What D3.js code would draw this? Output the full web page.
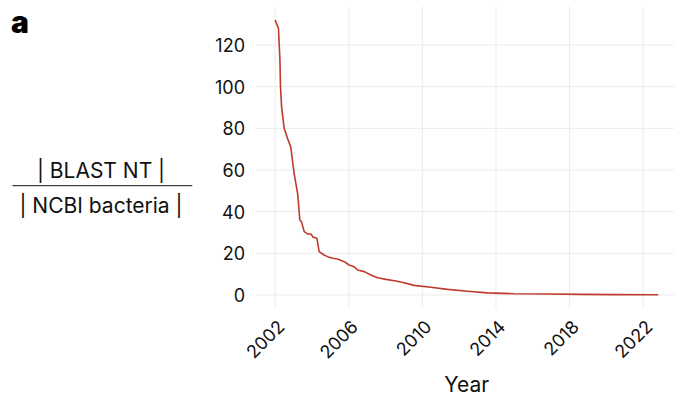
<!DOCTYPE html>
<html>
<head>
<meta charset="utf-8">
<script src="https://cdn.jsdelivr.net/npm/d3@7"></script>
<style>
  html, body { margin: 0; padding: 0; background: #fff; }
  svg { display: block; font-family: Inter, "Noto Sans", sans-serif; }
</style>
</head>
<body>
<svg id="chart" width="674" height="414"></svg>
<script>
// ---- data ----
const years = [2002.00, 2002.18, 2002.26, 2002.29, 2002.35, 2002.49, 2002.67, 2002.85, 2003.03, 2003.22,
  2003.27, 2003.34, 2003.43, 2003.58, 2003.76, 2003.94, 2004.07, 2004.27, 2004.39, 2004.66,
  2004.85, 2005.12, 2005.39, 2005.75, 2006.02, 2006.29, 2006.48, 2006.84, 2007.20, 2007.57,
  2008.02, 2008.56, 2009.01, 2009.55, 2010.46, 2011.37, 2012.46, 2013.54, 2014.99, 2016.80,
  2018.61, 2020.42, 2022.82];
const ratio = [132, 128, 112.8, 100, 90.4, 80, 75.2, 71, 58.4, 48.8,
  44, 36, 35.2, 30.4, 29.3, 29.3, 27.7, 27.2, 20.8, 19.2,
  18.4, 17.6, 17.3, 16, 14.4, 13.6, 12, 11.2, 9.6, 8.3,
  7.5, 6.7, 5.9, 4.6, 3.7, 2.7, 1.8, 1.0, 0.6, 0.5,
  0.3, 0.15, 0.1];
const xTicks = [2002, 2006, 2010, 2014, 2018, 2022];
const yTicks = [0, 20, 40, 60, 80, 100, 120];
const titleNumerator = "BLAST NT";
const titleDenominator = "NCBI bacteria";
const xTitle = "Year";
const panelLabel = "a";

// ---- layout ----
const svg = d3.select("#chart");
const panel = { left: 256, right: 677.4, top: 6.3, bottom: 308.5 };
const lineColor = "#BF3B2C";
const gridColor = "#ebebeb";
const textColor = "#111";

const xExt = d3.extent(years), yExt = d3.extent(ratio);
const xPad = (xExt[1] - xExt[0]) * 0.05, yPad = (yExt[1] - yExt[0]) * 0.05;
const x = d3.scaleLinear().domain([xExt[0] - xPad, xExt[1] + xPad]).range([panel.left, panel.right]);
const y = d3.scaleLinear().domain([yExt[0] - yPad, yExt[1] + yPad]).range([panel.bottom, panel.top]);

// grid
const grid = svg.append("g");
grid.selectAll("line.h").data(yTicks).join("line")
  .attr("x1", panel.left).attr("x2", panel.right)
  .attr("y1", d => y(d)).attr("y2", d => y(d))
  .attr("stroke", gridColor).attr("stroke-width", 1);
grid.selectAll("line.v").data(xTicks).join("line")
  .attr("x1", d => x(d)).attr("x2", d => x(d))
  .attr("y1", panel.top).attr("y2", panel.bottom)
  .attr("stroke", gridColor).attr("stroke-width", 1);

// y axis labels
const yAxis = d3.axisLeft(y).tickValues(yTicks).tickSize(0).tickPadding(0).tickFormat(d3.format("d"));
const gy = svg.append("g").attr("transform", `translate(${245},0)`).call(yAxis);
gy.select(".domain").remove();
gy.selectAll("text").attr("font-size", 18).attr("fill", textColor)
  .attr("font-family", "Inter, sans-serif").attr("dy", "0.36em");

// x axis labels (rotated 45)
const xAxis = d3.axisBottom(x).tickValues(xTicks).tickSize(0).tickFormat(d3.format("d"));
const gx = svg.append("g").attr("transform", `translate(0,${328})`).call(xAxis);
gx.select(".domain").remove();
gx.selectAll(".tick text")
  .attr("font-size", 18).attr("fill", textColor).attr("font-family", "Inter, sans-serif")
  .attr("text-anchor", "end").attr("x", 0).attr("y", 0).attr("dy", 0)
  .attr("transform", "translate(10,0) rotate(-45)");

// line
const line = d3.line().x((d, i) => x(years[i])).y(d => y(d));
svg.append("path").datum(ratio)
  .attr("d", line)
  .attr("fill", "none").attr("stroke", lineColor).attr("stroke-width", 1.6)
  .attr("stroke-linejoin", "round");

// x title
svg.append("text").attr("x", (panel.left + panel.right) / 2).attr("y", 392)
  .attr("text-anchor", "middle").attr("font-size", 21).attr("fill", textColor).text(xTitle);

// y title as fraction
const fx = 101;
svg.append("text").attr("x", fx).attr("y", 178.3).attr("text-anchor", "middle")
  .attr("font-size", 21).attr("fill", textColor).text("| " + titleNumerator + " |");
svg.append("line").attr("x1", 12.5).attr("x2", 192.3).attr("y1", 185.7).attr("y2", 185.7)
  .attr("stroke", textColor).attr("stroke-width", 1);
svg.append("text").attr("x", fx).attr("y", 213.3).attr("text-anchor", "middle")
  .attr("font-size", 21).attr("fill", textColor).text("| " + titleDenominator + " |");

// panel label
svg.append("text").attr("x", 11).attr("y", 33).attr("font-size", 30)
  .attr("font-weight", 900).attr("fill", "#000").text(panelLabel);
</script>
</body>
</html>
